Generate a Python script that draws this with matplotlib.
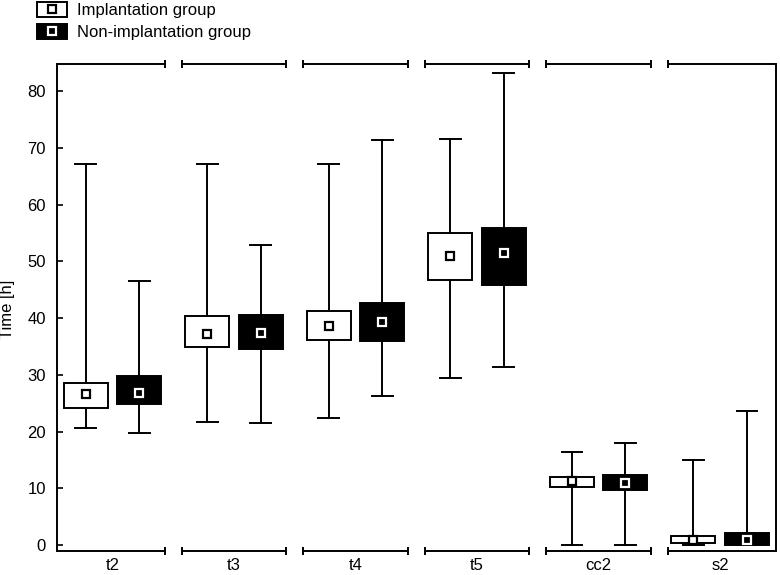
import matplotlib
matplotlib.use('Agg')
import matplotlib.pyplot as plt
from matplotlib.patches import Patch
from matplotlib.lines import Line2D
from matplotlib.legend_handler import HandlerTuple

plt.rcParams['font.family'] = ['Liberation Sans', 'DejaVu Sans']
plt.rcParams['font.size'] = 12

# categories and box stats (min, q1, median, q3, max)
categories = ['t2', 't3', 't4', 't5', 'cc2', 's2']

impl_min = [20.6, 21.7, 22.4, 29.5, 0.0, 0.0]
impl_q1 = [24.2, 34.9, 36.2, 46.7, 10.2, 0.3]
impl_med = [26.6, 37.2, 38.6, 51.0, 11.3, 0.9]
impl_q3 = [28.6, 40.4, 41.3, 55.0, 12.0, 1.6]
impl_max = [67.2, 67.2, 67.2, 71.6, 16.4, 15.0]

non_min = [19.8, 21.5, 26.3, 31.4, 0.0, 0.0]
non_q1 = [24.9, 34.6, 36.0, 45.9, 9.7, 0.0]
non_med = [26.8, 37.4, 39.3, 51.5, 11.0, 0.9]
non_q3 = [29.8, 40.6, 42.7, 55.9, 12.3, 2.2]
non_max = [46.6, 52.9, 71.4, 83.2, 18.0, 23.6]

series_labels = ['Implantation group', 'Non-implantation group']


def make_stats(mn, q1, med, q3, mx):
    return [dict(whislo=a, q1=b, med=c, q3=d, whishi=e, fliers=[])
            for a, b, c, d, e in zip(mn, q1, med, q3, mx)]


fig = plt.figure(figsize=(7.8, 5.75), dpi=100)
ax = fig.add_axes([57 / 780, 1 - 551 / 575, 719 / 780, 487 / 575])

x = list(range(len(categories)))
off = 0.22
lw = 1.4

groups = [
    (make_stats(impl_min, impl_q1, impl_med, impl_q3, impl_max), impl_med, -off, 'white', 'black'),
    (make_stats(non_min, non_q1, non_med, non_q3, non_max), non_med, off, 'black', 'white'),
]

for stats, med, dx, face, mark_edge in groups:
    pos = [p + dx for p in x]
    ax.bxp(stats, positions=pos, widths=0.36, capwidths=0.17,
           patch_artist=True, showfliers=False,
           boxprops=dict(facecolor=face, edgecolor='black', linewidth=lw),
           whiskerprops=dict(color='black', linewidth=lw),
           capprops=dict(color='black', linewidth=lw),
           medianprops=dict(linewidth=0))
    ax.plot(pos, med, ls='none', marker='s', markersize=6,
            markerfacecolor=face, markeredgecolor=mark_edge,
            markeredgewidth=1.6, zorder=5)

ax.set_xlim(-0.457, 5.46)
ax.set_ylim(-1.05, 84.8)

# bracket-style top and bottom frame, one piece per category
half = 0.43
xl, xr = ax.get_xlim()
tr = ax.get_xaxis_transform()
for i in x:
    a = xl if i == 0 else i - half
    b = xr if i == len(x) - 1 else i + half
    for yy in (0, 1):
        ax.plot([a, b], [yy, yy], color='black', lw=lw, transform=tr,
                clip_on=False, solid_capstyle='butt')
        ends = []
        if i != 0:
            ends.append(a)
        if i != len(x) - 1:
            ends.append(b)
        ax.plot(ends, [yy] * len(ends), ls='none', marker='|',
                markersize=6, mew=lw, color='black', transform=tr,
                clip_on=False)

for s in ('top', 'bottom'):
    ax.spines[s].set_visible(False)
for s in ('left', 'right'):
    ax.spines[s].set_linewidth(lw)

ax.set_xticks(x)
ax.set_xticklabels(categories)
ax.tick_params(axis='x', length=0, pad=5)
ax.set_yticks(range(0, 81, 10))
ax.tick_params(axis='y', direction='in', length=4, width=1.2, pad=8)

# y label sits right at the left edge, as in the reference
fig.text(8 / 780, 1 - 309 / 575, 'Time [h]', rotation=90,
         ha='center', va='center', fontsize=12)

handles = [
    (Patch(facecolor='white', edgecolor='black', linewidth=lw),
     Line2D([], [], ls='none', marker='s', markersize=6,
            markerfacecolor='white', markeredgecolor='black', markeredgewidth=1.6)),
    (Patch(facecolor='black', edgecolor='black', linewidth=lw),
     Line2D([], [], ls='none', marker='s', markersize=6,
            markerfacecolor='black', markeredgecolor='white', markeredgewidth=1.6)),
]
fig.legend(handles, series_labels, handler_map={tuple: HandlerTuple(ndivide=1)},
           loc='upper left', bbox_to_anchor=(37 / 780, 1 - 2 / 575),
           frameon=False, borderpad=0, borderaxespad=0,
           handlelength=1.8, handleheight=1.0, handletextpad=0.6,
           labelspacing=0.35, fontsize=12)

fig.savefig('out.png', dpi=100)
